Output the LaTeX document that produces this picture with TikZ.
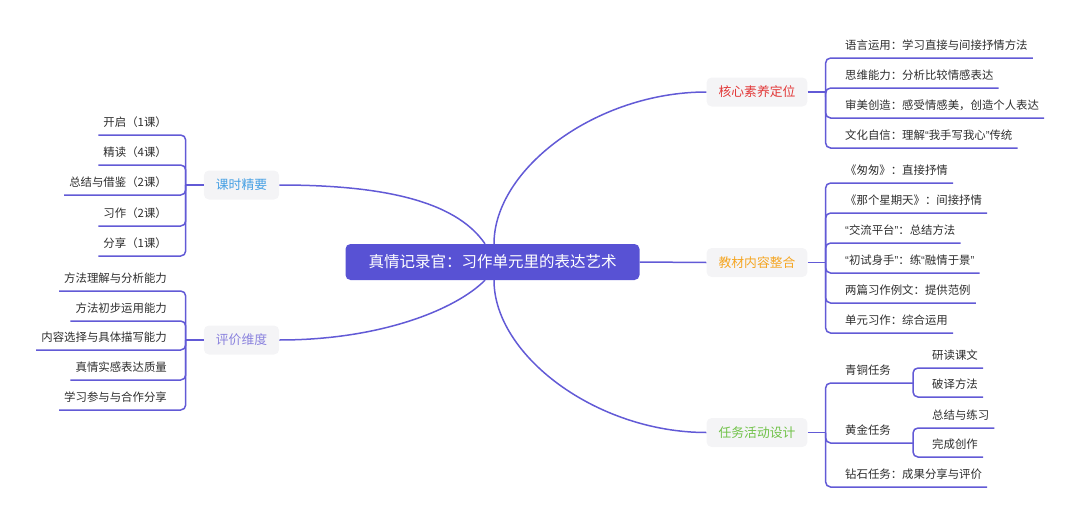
\documentclass[tikz,border=0pt]{standalone}
\usepackage{fontspec}
\setmainfont{Noto Sans CJK SC}
\newfontfamily\quotefont{Liberation Sans}
\usepackage{tikz}
\usetikzlibrary{positioning,calc}
\definecolor{mmLine}  {RGB}{ 98, 90,214}
\definecolor{mmRoot}  {RGB}{ 88, 82,212}
\definecolor{mmPad}   {RGB}{244,244,246}
\definecolor{mmInk}   {RGB}{ 45, 45, 45}
\definecolor{mmRed}   {RGB}{226, 56, 56}
\definecolor{mmOrange}{RGB}{245,166, 35}
\definecolor{mmGreen} {RGB}{112,194, 72}
\definecolor{mmBlue}  {RGB}{ 70,160,228}
\definecolor{mmViolet}{RGB}{138,130,222}
% narrow quotes
\newcommand\qopen{{\quotefont “}}
\newcommand\qclose{{\quotefont ”}}

\tikzset{
  root/.style={fill=mmRoot,text=white,rounded corners=5pt,minimum height=36pt,
               inner xsep=23pt,font=\fontsize{15.5}{18}\selectfont},
  topic/.style={fill=mmPad,rounded corners=5pt,minimum height=29pt,
                inner xsep=12pt,font=\fontsize{12.8}{15}\selectfont},
  leaf/.style={inner xsep=5pt,inner ysep=5pt,text height=9.5pt,text depth=3pt,
               text=mmInk,font=\fontsize{11.4}{13}\selectfont},
  link/.style={draw=mmLine,line width=1.5pt},
}

\begin{document}
\begin{tikzpicture}[x=1pt,y=-1pt]
\useasboundingbox (0,0) rectangle (1080,525);
% Root and main topics
\node[root] (root) at (492.5,262) {真情记录官：习作单元里的表达艺术};
\node[topic,text=mmRed]    (core) at (757,92)    {核心素养定位};
\node[topic,text=mmOrange] (book) at (757,262.5) {教材内容整合};
\node[topic,text=mmGreen]  (task) at (757,432.5) {任务活动设计};
\node[topic,text=mmBlue]   (hour) at (241.5,185) {课时精要};
\node[topic,text=mmViolet] (eval) at (241.5,340) {评价维度};
% Curved links from the root
\draw[link] ([xshift=1.5pt]root.north) .. controls +(0,-75) and +(-110,0) .. (core.west);
\draw[link] (root.east) -- (book.west);
\draw[link] ([xshift=1.5pt]root.south) .. controls +(0,75) and +(-110,0) .. (task.west);
\draw[link] (hour.east) .. controls +(100,0) and +(-30,-44) .. ([xshift=-7.5pt]root.north);
\draw[link] (eval.east) .. controls +(100,0) and +(-30,30) .. ([xshift=-7.5pt]root.south);
% Bracket stubs
\draw[link] (core.east) -- ++(18,0) coordinate (coreJ);
\draw[link] (book.east) -- ++(18,0) coordinate (bookJ);
\draw[link] (task.east) -- ++(18,0) coordinate (taskJ);
\draw[link] (hour.west) -- ++(-18,0) coordinate (hourJ);
\draw[link] (eval.west) -- ++(-18,0) coordinate (evalJ);
% Core literacy
\foreach \nm/\y/\txt in {
   c1/58/{语言运用：学习直接与间接抒情方法},
   c2/88/{思维能力：分析比较情感表达},
   c3/118/{审美创造：感受情感美，创造个人表达},
   c4/148/{文化自信：理解\qopen 我手写我心\qclose 传统}
}{
  \node[leaf,anchor=south west] (\nm) at (840,\y) {\txt};
  \draw[link,rounded corners=5pt] (coreJ) |- (\nm.south east);
}
% Textbook content
\foreach \nm/\y/\txt in {
   b1/183/{《匆匆》：直接抒情},
   b2/213/{《那个星期天》：间接抒情},
   b3/243/{\qopen 交流平台\qclose ：总结方法},
   b4/273/{\qopen 初试身手\qclose ：练\qopen 融情于景\qclose},
   b5/303/{两篇习作例文：提供范例},
   b6/333/{单元习作：综合运用}
}{
  \node[leaf,anchor=south west] (\nm) at (840,\y) {\txt};
  \draw[link,rounded corners=5pt] (bookJ) |- (\nm.south east);
}
% Task design
\node[leaf,anchor=south west] (bronze)  at (840,383) {青铜任务};
\node[leaf,anchor=south west] (gold)    at (840,443) {黄金任务};
\node[leaf,anchor=south west] (diamond) at (840,487) {钻石任务：成果分享与评价};
\draw[link,rounded corners=5pt] (taskJ) |- (bronze.south east) -- ++(17,0) coordinate (bronzeJ);
\draw[link,rounded corners=5pt] (taskJ) |- (gold.south east) -- ++(17,0) coordinate (goldJ);
\draw[link,rounded corners=5pt] (taskJ) |- (diamond.south east);
\foreach \nm/\up/\y/\txt in {
   t1/bronzeJ/368/{研读课文},
   t2/bronzeJ/397/{破译方法},
   t3/goldJ/428/{总结与练习},
   t4/goldJ/457/{完成创作}
}{
  \node[leaf,anchor=south west] (\nm) at (927,\y) {\txt};
  \draw[link,rounded corners=5pt] (\up) |- (\nm.south east);
}
% Class hours
\foreach \nm/\y/\txt in {
   h1/135/{开启（1课）},
   h2/165/{精读（4课）},
   h3/195/{总结与借鉴（2课）},
   h4/226/{习作（2课）},
   h5/256/{分享（1课）}
}{
  \node[leaf,anchor=south east] (\nm) at (172,\y) {\txt};
  \draw[link,rounded corners=5pt] (hourJ) |- (\nm.south west);
}
% Evaluation
\foreach \nm/\y/\txt in {
   e1/291/{方法理解与分析能力},
   e2/321/{方法初步运用能力},
   e3/350/{内容选择与具体描写能力},
   e4/380/{真情实感表达质量},
   e5/410/{学习参与与合作分享}
}{
  \node[leaf,anchor=south east] (\nm) at (172,\y) {\txt};
  \draw[link,rounded corners=5pt] (evalJ) |- (\nm.south west);
}
\end{tikzpicture}
\end{document}
